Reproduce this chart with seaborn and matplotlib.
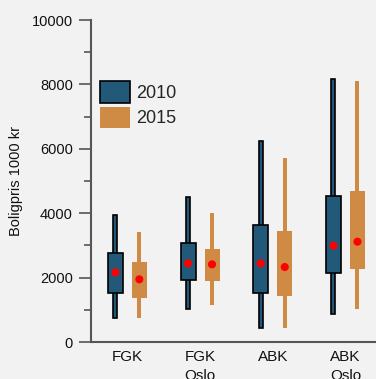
import numpy as np
import pandas as pd
import matplotlib
matplotlib.use("Agg")
import matplotlib.pyplot as plt
import seaborn as sns
from matplotlib.patches import Patch

categories = ["FGK", "FGK\nOslo", "ABK", "ABK\nOslo"]
years = ["2010", "2015"]

whisk_lo_2010 = [745, 1035, 424, 880]
box_lo_2010 = [1522, 1915, 1511, 2143]
mean_2010 = [2164, 2443, 2443, 2991]
box_hi_2010 = [2764, 3064, 3644, 4544]
whisk_hi_2010 = [3944, 4503, 6242, 8178]

whisk_lo_2015 = [736, 1159, 445, 1035]
box_lo_2015 = [1376, 1905, 1429, 2277]
mean_2015 = [1947, 2412, 2329, 3115]
box_hi_2015 = [2484, 2888, 3447, 4689]
whisk_hi_2015 = [3407, 3996, 5714, 8106]

c2010 = "#225878"
c2015 = "#cf8a44"
bg = "#f2f2f2"

sns.set_theme(style="ticks")
plt.rcParams["font.family"] = ["Liberation Sans", "DejaVu Sans"]

fig = plt.figure(figsize=(3.76, 3.79), dpi=100, facecolor=bg)
ax = fig.add_axes([0.242, 0.0976, 0.758, 0.8496])
ax.set_facecolor(bg)

x = np.arange(len(categories))
off = 0.165
bw = 0.206
ww = 0.055

series = [
    (years[0], c2010, -off, whisk_lo_2010, box_lo_2010, mean_2010, box_hi_2010, whisk_hi_2010, "black"),
    (years[1], c2015, off, whisk_lo_2015, box_lo_2015, mean_2015, box_hi_2015, whisk_hi_2015, "none"),
]
rows = []
for yr, col, o, wl, bl, mn, bh, wh, ec in series:
    wl, bl, mn, bh, wh = map(np.array, (wl, bl, mn, bh, wh))
    ax.bar(x + o, wh - wl, bottom=wl, width=ww, color=col, edgecolor=ec, linewidth=1.2, zorder=2)
    ax.bar(x + o, bh - bl, bottom=bl, width=bw, color=col, edgecolor=ec, linewidth=1.2, zorder=3)
    for xi, m in zip(x + o, mn):
        rows.append({"x": xi, "mean": m, "year": yr})

df = pd.DataFrame(rows)
sns.scatterplot(data=df, x="x", y="mean", color="#ff0000", s=34, edgecolor="none", zorder=4, ax=ax, legend=False)

ax.set_xlim(-0.5, 3.42)
ax.set_ylim(0, 10000)
ax.set_xticks(x)
ax.set_xticklabels(categories, fontsize=11, color="#111111", linespacing=1.45)
ax.tick_params(axis="x", length=0, pad=6)
ax.set_yticks(np.arange(0, 10001, 2000))
ax.set_yticks(np.arange(1000, 10000, 2000), minor=True)
ax.tick_params(axis="y", which="major", length=9, width=1.2, color="#555555", labelsize=10.5, labelcolor="#111111", pad=4)
ax.tick_params(axis="y", which="minor", length=5, width=1.2, color="#555555")
ax.set_xlabel("")
ax.set_ylabel("Boligpris 1000 kr", fontsize=10.5, color="#111111", labelpad=6)
for s in ["top", "right"]:
    ax.spines[s].set_visible(False)
for s in ["left", "bottom"]:
    ax.spines[s].set_color("#555555")
    ax.spines[s].set_linewidth(1.5)

handles = [Patch(facecolor=c2010, edgecolor="black", linewidth=1.2, label=years[0]),
           Patch(facecolor=c2015, edgecolor="none", label=years[1])]
leg = ax.legend(handles=handles, loc="upper left", bbox_to_anchor=(0.032, 0.81), frameon=False,
                prop={"family": ["Liberation Sans", "DejaVu Sans"], "size": 13},
                handlelength=1.67, handleheight=1.45, labelspacing=0.22, handletextpad=0.3,
                borderaxespad=0, borderpad=0)

fig.savefig("out.png", dpi=100, facecolor=bg)
